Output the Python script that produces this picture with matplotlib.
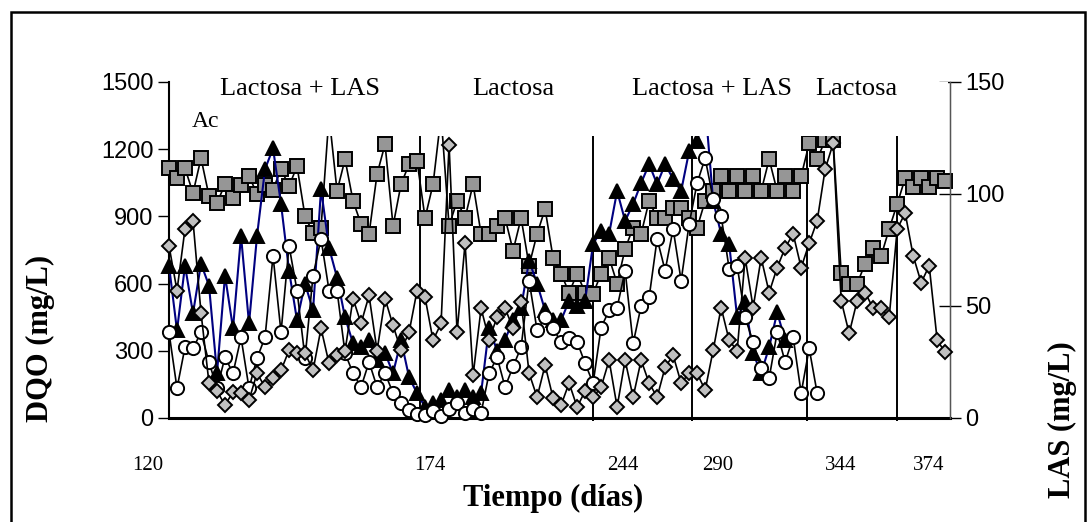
import numpy as np
import matplotlib.pyplot as plt
from matplotlib.patches import Rectangle
from matplotlib.transforms import blended_transform_factory

# sample index (one sample per step on the category axis)
n = np.arange(98)

# DQO influente (mg/L) - squares
dqo_in = [1115, 1071, 1115, 1004, 1160, 991, 960, 1044, 980, 1040,
          1080, 1000, 1040, 1020, 1111, 1035, 1124, 900, 826, 850,
          1350, 1013, 1155, 969, 866, 822, 1089, 1222, 858, 1044,
          1133, 1147, 893, 1044, 1350, 858, 969, 893, 1044, 822,
          822, 858, 893, 747, 893, 680, 822, 933, 715, 644,
          560, 644, 560, 555, 644, 715, 600, 755, 850, 822,
          969, 893, 893, 938, 938, 893, 850, 969, 1013, 1080,
          1013, 1080, 1013, 1080, 1013, 1155, 1013, 1080, 1013, 1080,
          1226, 1155, 1240, 1240, 649, 600, 600, 689, 760, 724,
          844, 955, 1071, 1030, 1071, 1030, 1071, 1060]

# DQO efluente (mg/L) - triangles
dqo_ef = [680, 391, 680, 467, 689, 591, 200, 636, 400, 813,
          422, 813, 1111, 1204, 955, 658, 436, 600, 480, 1022,
          760, 627, 449, 333, 316, 347, 258, 289, 200, 347,
          182, 111, 49, 67, 80, 124, 93, 124, 93, 111,
          404, 300, 350, 436, 493, 702, 600, 480, 436, 436,
          524, 500, 524, 778, 835, 822, 1013, 880, 955, 1049,
          1133, 1044, 1133, 1067, 1013, 1191, 1235, 1400, 969, 822,
          778, 449, 516, 289, 200, 316, 471, 347]

# DQO soluble (mg/L) - circles
dqo_sol = [382, 133, 316, 311, 382, 249, 133, 271, 200, 360,
           133, 267, 360, 724, 382, 769, 569, 267, 636, 800,
           569, 569, 289, 200, 138, 250, 138, 200, 111, 67,
           36, 20, 13, 30, 10, 40, 67, 22, 40, 22,
           200, 271, 138, 230, 316, 613, 391, 449, 400, 338,
           356, 340, 244, 155, 404, 480, 493, 658, 333, 500,
           538, 800, 658, 844, 613, 866, 1049, 1160, 978, 902,
           667, 680, 449, 338, 222, 178, 382, 250, 360, 111,
           311, 111]

# LAS (mg/L) - diamonds, right axis
las = [76.9, 56.9, 84.4, 88.0, 47.0, 15.6, 12.0, 5.8, 11.6, 11.0,
       8.0, 20.0, 13.8, 17.8, 21.3, 30.2, 28.9, 28.9, 21.3, 40.0,
       24.4, 28.0, 30.0, 53.3, 42.2, 54.7, 30.0, 53.3, 41.3, 30.2,
       38.2, 56.9, 53.8, 34.7, 42.2, 122.0, 38.2, 78.0, 19.0, 49.0,
       35.0, 45.0, 49.0, 40.0, 52.0, 20.0, 9.3, 23.6, 8.9, 5.8,
       15.6, 4.9, 12.0, 9.3, 13.8, 25.8, 4.9, 25.8, 9.3, 25.8,
       15.6, 9.3, 22.7, 28.0, 15.6, 20.0, 20.0, 12.4, 30.2, 49.3,
       34.7, 30.0, 71.5, 49.3, 71.5, 56.0, 67.1, 76.0, 82.2, 67.1,
       78.0, 88.0, 111.1, 122.6, 52.4, 37.8, 52.4, 56.0, 48.9, 48.9,
       44.9, 84.4, 91.5, 72.4, 60.4, 68.0, 34.7, 29.3]

day_labels = ['120', '174', '244', '290', '344', '374']
phases = ['Lactosa + LAS', 'Lactosa', 'Lactosa + LAS', 'Lactosa']

# layout (sample-axis positions)
day_pos = [-2.6, 32.6, 56.75, 68.6, 83.9, 94.9]
phase_lines = [31.4, 53, 65.4, 79.75, 91]
phase_pos = [16.4, 43, 67.9, 85.9]

serif = 'Liberation Serif'
sans = 'Liberation Sans'

fig = plt.figure(figsize=(10.91, 5.22), dpi=100)
ax = fig.add_axes([169 / 1091, 1 - 418 / 522, (950 - 169) / 1091, (418 - 82) / 522])
ax2 = ax.twinx()

lw = 1.2
mew = 1.4
ax.plot(n[:len(dqo_in)], dqo_in, '-s', color='black', lw=lw, ms=9.5,
        mfc='#969696', mec='black', mew=mew, clip_on=False, zorder=3)
ax.plot(n[:len(dqo_ef)], dqo_ef, '-^', color='#000080', lw=lw + 0.3, ms=9.5,
        mfc='black', mec='black', mew=mew, clip_on=False, zorder=4)
ax.plot(n[:len(dqo_sol)], dqo_sol, '-o', color='black', lw=lw, ms=9.5,
        mfc='white', mec='black', mew=mew, clip_on=False, zorder=5)
ax2.plot(n[:len(las)], las, '-D', color='black', lw=lw, ms=7.5,
         mfc='#c0c0c0', mec='black', mew=mew, clip_on=False, zorder=3)

ax.vlines(phase_lines, -12, 1500, color='black', lw=1.4, clip_on=False, zorder=2)

ax.set_xticks([])
ax.set_xlim(0, 97.6)
ax.set_ylim(0, 1500)
ax2.set_ylim(0, 150)
ax.set_yticks(range(0, 1501, 300))
ax2.set_yticks([0, 50, 100, 150])
ax.tick_params(axis='y', direction='out', length=8, width=1, labelsize=17, pad=3)
ax2.tick_params(axis='y', direction='inout', length=16, width=1, labelsize=17, pad=3)
for lab in ax.get_yticklabels() + ax2.get_yticklabels():
    lab.set_family(sans)

# day labels under the axis
trans = blended_transform_factory(ax.transData, ax.transAxes)
for p, t in zip(day_pos, day_labels):
    ax.text(p, -0.14, t, transform=trans, family=serif, fontsize=15,
            ha='center', va='center', clip_on=False)

for a in (ax, ax2):
    a.spines['top'].set_visible(False)
ax.spines['left'].set_linewidth(1.5)
ax.spines['bottom'].set_linewidth(2.2)
ax2.spines['right'].set_color('#555555')
ax2.spines['right'].set_linewidth(1)
ax2.spines['left'].set_visible(False)
ax2.spines['bottom'].set_visible(False)

# white label box hiding the top of the plot area
ax2.add_patch(Rectangle((0.003, 1258 / 1500), 0.994, 1 - 1258 / 1500,
                        transform=ax2.transAxes, facecolor='white',
                        edgecolor='none', zorder=10, clip_on=False))
for p, t in zip(phase_pos, phases):
    ax2.text(p, 146.7, t, family=serif, fontsize=19, ha='center', va='center', zorder=11)
ax2.text(4.6, 132.4, 'Ac', family=serif, fontsize=17, ha='center', va='center', zorder=11)

fig.text(40 / 1091, 1 - 338 / 522, 'DQO (mg/L)', family=serif, fontsize=22,
         fontweight='bold', rotation=90, ha='center', va='center')
fig.text(1062 / 1091, 1 - 420 / 522, 'LAS (mg/L)', family=serif, fontsize=22,
         fontweight='bold', rotation=90, ha='center', va='center')
fig.text(553 / 1091, 1 - 498 / 522, 'Tiempo (días)', family=serif, fontsize=22,
         fontweight='bold', ha='center', va='center')

fig.patches.append(Rectangle((11 / 1091, -0.05), 1074 / 1091, 1.05 - 12 / 522,
                             transform=fig.transFigure, facecolor='none',
                             edgecolor='black', lw=1.8))

fig.savefig('out.png', dpi=100)
